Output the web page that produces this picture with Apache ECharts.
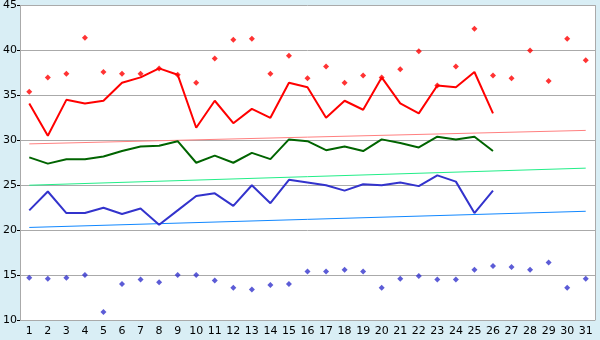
<!DOCTYPE html>
<html>
<head>
<meta charset="utf-8">
<script src="https://cdn.jsdelivr.net/npm/echarts@6/dist/echarts.min.js"></script>
<style>
  html, body { margin: 0; padding: 0; background: #d9eef5; }
  #chart { width: 600px; height: 340px; }
</style>
</head>
<body>
<div id="chart"></div>
<script>
// days of the month
const days = []
for (let d = 1; d <= 31; d++) days.push(String(d))

// daily high line (red)
const highLine = [34.1, 30.5, 34.5, 34.1, 34.4, 36.4, 37.0, 38.0, 37.3, 31.4,
  34.4, 31.9, 33.5, 32.5, 36.4, 35.9, 32.5, 34.4, 33.4, 37.0,
  34.1, 33.0, 36.1, 35.9, 37.6, 33.0]
// mean line (green)
const meanLine = [28.1, 27.4, 27.9, 27.9, 28.2, 28.8, 29.3, 29.4, 29.9, 27.5,
  28.3, 27.5, 28.6, 27.9, 30.1, 29.9, 28.9, 29.3, 28.8, 30.1,
  29.7, 29.2, 30.4, 30.1, 30.4, 28.8]
// daily low line (blue)
const lowLine = [22.2, 24.3, 21.9, 21.9, 22.5, 21.8, 22.4, 20.6, 22.2, 23.8,
  24.1, 22.7, 25.0, 23.0, 25.6, 25.3, 25.0, 24.4, 25.1, 25.0,
  25.3, 24.9, 26.1, 25.4, 21.9, 24.4]
// record highs (red points)
const recordHigh = [35.4, 37.0, 37.4, 41.4, 37.6, 37.4, 37.4, 38.0, 37.3, 36.4,
  39.1, 41.2, 41.3, 37.4, 39.4, 36.9, 38.2, 36.4, 37.2, 37.0,
  37.9, 39.9, 36.1, 38.2, 42.4, 37.2, 36.9, 40.0, 36.6, 41.3, 38.9]
// record lows (blue points)
const recordLow = [14.7, 14.6, 14.7, 15.0, 10.9, 14.0, 14.5, 14.2, 15.0, 15.0,
  14.4, 13.6, 13.4, 13.9, 14.0, 15.4, 15.4, 15.6, 15.4, 13.6,
  14.6, 14.9, 14.5, 14.5, 15.6, 16.0, 15.9, 15.6, 16.4, 13.6, 14.6]
// trend lines: value on day 1 and day 31
const trendHigh = [29.6, 31.1]
const trendMean = [25.0, 26.9]
const trendLow = [20.3, 22.1]

function trend(ends) {
  const arr = days.map(() => null)
  arr[0] = ends[0]
  arr[days.length - 1] = ends[1]
  return arr
}

const chart = echarts.init(document.getElementById('chart'))
const font = 'DejaVu Sans, Verdana, sans-serif'

chart.setOption({
  backgroundColor: '#d9eef5',
  animation: false,
  grid: {
    left: 20, right: 5, top: 5, bottom: 20,
    show: true,
    backgroundColor: '#ffffff',
    borderWidth: 0
  },
  xAxis: {
    type: 'category',
    data: days,
    boundaryGap: true,
    axisLine: { show: false },
    axisTick: { alignWithLabel: true, length: 5, lineStyle: { color: '#000' } },
    axisLabel: { color: '#000', fontFamily: font, fontSize: 11, margin: 6, interval: 0 }
  },
  yAxis: [
    {
      type: 'value',
      min: 10, max: 45, interval: 5,
      axisLine: { show: true, lineStyle: { color: '#aaaaaa' } },
      axisTick: { show: true, length: 3, lineStyle: { color: '#000' } },
      axisLabel: { color: '#000', fontFamily: font, fontSize: 11, margin: 3 },
      splitLine: { lineStyle: { color: '#aaaaaa' } }
    },
    {
      // right-hand frame line only
      type: 'value',
      position: 'right',
      min: 10, max: 45, interval: 5,
      axisLine: { show: true, lineStyle: { color: '#aaaaaa' } },
      axisTick: { show: false },
      axisLabel: { show: false },
      splitLine: { show: false }
    }
  ],
  series: [
    { type: 'line', data: trend(trendHigh), connectNulls: true, symbol: 'none',
      lineStyle: { color: '#ff8080', width: 1 }, z: 1 },
    { type: 'line', data: trend(trendMean), connectNulls: true, symbol: 'none',
      lineStyle: { color: '#22ee88', width: 1 }, z: 1 },
    { type: 'line', data: trend(trendLow), connectNulls: true, symbol: 'none',
      lineStyle: { color: '#1188ff', width: 1 }, z: 1 },
    { type: 'line', data: highLine, symbol: 'none',
      lineStyle: { color: '#ff0000', width: 2 }, z: 3 },
    { type: 'line', data: meanLine, symbol: 'none',
      lineStyle: { color: '#006400', width: 2 }, z: 3 },
    { type: 'line', data: lowLine, symbol: 'none',
      lineStyle: { color: '#3333cc', width: 2 }, z: 3 },
    { type: 'scatter', data: recordHigh, symbol: 'diamond', symbolSize: 6,
      itemStyle: { color: '#ff0000' }, z: 4 },
    { type: 'scatter', data: recordLow, symbol: 'diamond', symbolSize: 6,
      itemStyle: { color: '#3333cc' }, z: 4 }
  ]
})
</script>
</body>
</html>
